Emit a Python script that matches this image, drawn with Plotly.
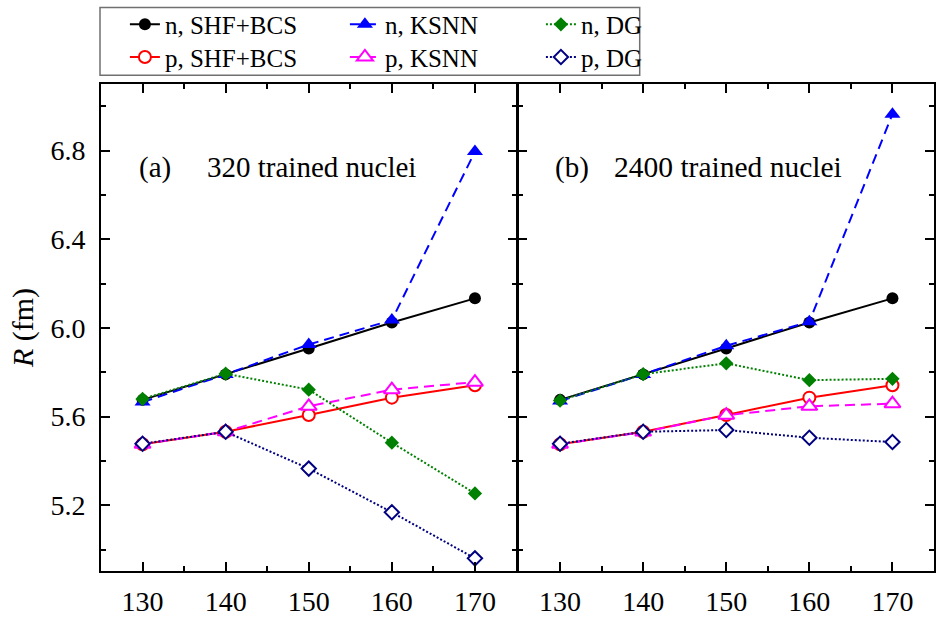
import plotly.graph_objects as go
from plotly.subplots import make_subplots

# Mass number of the nuclei
Z = [130, 140, 150, 160, 170]

# SHF+BCS reference radii (same in both panels)
n_shf = [5.675, 5.790, 5.907, 6.024, 6.133]
p_shf = [5.475, 5.531, 5.607, 5.685, 5.741]

# Panel (a): 320 trained nuclei
n_ksnn_a = [5.665, 5.790, 5.925, 6.035, 6.795]
p_ksnn_a = [5.475, 5.531, 5.646, 5.721, 5.755]
n_dg_a = [5.679, 5.793, 5.721, 5.482, 5.253]
p_dg_a = [5.477, 5.531, 5.365, 5.168, 4.960]

# Panel (b): 2400 trained nuclei
n_ksnn_b = [5.670, 5.790, 5.919, 6.027, 6.964]
p_ksnn_b = [5.475, 5.530, 5.606, 5.646, 5.658]
n_dg_b = [5.672, 5.791, 5.840, 5.764, 5.770]
p_dg_b = [5.477, 5.531, 5.539, 5.504, 5.485]

x_ticks = [130, 140, 150, 160, 170]
y_ticks = [5.2, 5.6, 6.0, 6.4, 6.8]
panel_labels = ["(a)", "(b)"]
panel_titles = ["320 trained nuclei", "2400 trained nuclei"]

FONT = "Liberation Serif"

fig = make_subplots(rows=1, cols=2, shared_yaxes=True, horizontal_spacing=0)

# (name, color, dash, symbol, filled, legend, legend item width, marker size)
styles = [
    ("n, SHF+BCS", "#000000", "solid", "circle", True, "legend", 175, 12),
    ("p, SHF+BCS", "#FF0000", "solid", "circle", False, "legend2", 175, 12),
    ("n, KSNN", "#0000FF", "10px,6px", "triangle-up", True, "legend", 151, 14),
    ("p, KSNN", "#FF00FF", "10px,6px", "triangle-up", False, "legend2", 151, 14),
    ("n, DG", "#008000", "2px,2px", "diamond", True, "legend", 120, 11),
    ("p, DG", "#000080", "2px,2px", "diamond", False, "legend2", 120, 11),
]

panels = [
    [n_shf, p_shf, n_ksnn_a, p_ksnn_a, n_dg_a, p_dg_a],
    [n_shf, p_shf, n_ksnn_b, p_ksnn_b, n_dg_b, p_dg_b],
]

for col, series in enumerate(panels, start=1):
    for (name, color, dash, symbol, filled, legend, lw, msize), yv in zip(styles, series):
        fig.add_trace(
            go.Scatter(
                x=Z, y=yv, name=name, mode="lines+markers",
                line=dict(color=color, width=2, dash=dash),
                marker=dict(
                    symbol=symbol, size=msize,
                    color=color if filled else "white",
                    line=dict(color=color, width=0 if filled else 2),
                ),
                legend=legend, legendwidth=lw,
                showlegend=(col == 1),
            ),
            row=1, col=col,
        )

axis_common = dict(
    showline=True, linecolor="black", linewidth=2, mirror="allticks",
    ticks="inside", ticklen=9, tickwidth=2, tickcolor="black",
    showgrid=False, zeroline=False,
    tickfont=dict(family=FONT, size=28, color="black"),
)

# Leave a 2px gap so the shared boundary lines of both panels coincide
x_domains = [[0, 0.4988], [0.5012, 1]]

for col in (1, 2):
    fig.update_xaxes(
        range=[125, 175], tickvals=x_ticks, domain=x_domains[col - 1],
        minor=dict(ticks="inside", dtick=5, tick0=125, ticklen=5, tickwidth=2, tickcolor="black"),
        ticklabelstandoff=4,
        row=1, col=col, **axis_common,
    )
    fig.update_yaxes(
        range=[4.903, 7.10], tickvals=y_ticks, tickformat=".1f",
        minor=dict(ticks="inside", dtick=0.2, tick0=5.0, ticklen=5, tickwidth=2, tickcolor="black"),
        ticklabelstandoff=8,
        row=1, col=col, **axis_common,
    )

fig.update_yaxes(
    title=dict(text="<i>R</i> (fm)", font=dict(family=FONT, size=30, color="black"), standoff=8),
    row=1, col=1,
)
fig.update_yaxes(showticklabels=False, row=1, col=2)

for i, (lab, title) in enumerate(zip(panel_labels, panel_titles)):
    xref = "x domain" if i == 0 else "x2 domain"
    yref = "y domain" if i == 0 else "y2 domain"
    fig.add_annotation(text=lab, x=0.086 if i == 0 else 0.083, y=0.829, xref=xref, yref=yref,
                       xanchor="left", yanchor="middle", showarrow=False,
                       font=dict(family=FONT, size=29, color="black"))
    fig.add_annotation(text=title, x=0.2515 if i == 0 else 0.226, y=0.829, xref=xref, yref=yref,
                       xanchor="left", yanchor="middle", showarrow=False,
                       font=dict(family=FONT, size=29.5 if i else 29, color="black"))

legend_common = dict(
    orientation="h", xanchor="left", yanchor="middle",
    bgcolor="rgba(0,0,0,0)", borderwidth=0,
    font=dict(family=FONT, size=25, color="black"),
    itemclick=False,
)

# Frame around the two legend rows
fig.add_shape(type="rect", xref="paper", yref="paper",
              x0=-0.0012, x1=0.6467, y0=1.018, y1=1.157,
              line=dict(color="#707070", width=1.5))

fig.update_layout(
    width=938, height=619,
    margin=dict(l=101, r=2, t=80, b=48),
    paper_bgcolor="white", plot_bgcolor="white",
    legend=dict(x=0.0287, y=1.122, **legend_common),
    legend2=dict(x=0.0287, y=1.055, **legend_common),
)

fig.write_html("out.html")
